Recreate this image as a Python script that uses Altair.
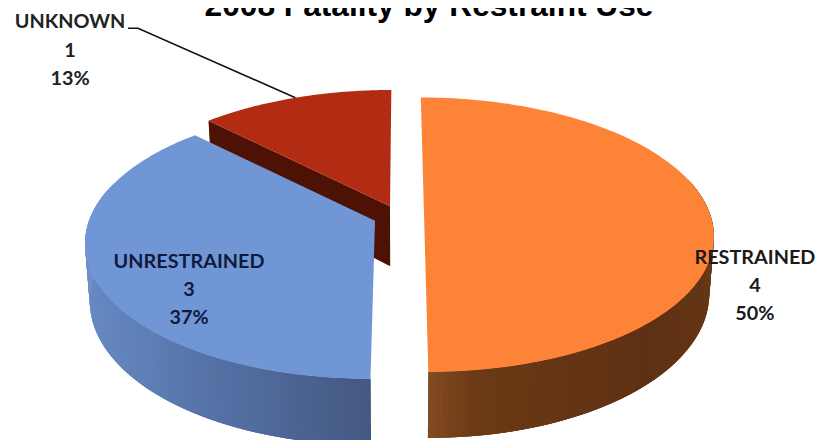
import math
import altair as alt

# ---- values
categories = ["RESTRAINED", "UNRESTRAINED", "UNKNOWN"]
counts = [4, 3, 1]
percent_labels = ["50%", "37%", "13%"]
title_text = "2008 Fatality by Restraint Use"

# ---- styling / layout of the tilted pie (picture pixels)
top_colors = ["#FD8336", "#7096D6", "#B12C13"]
wall_stops = [
    [(0.0, "#6B3A16"), (0.5, "#5E3113"), (0.89, "#6B3A16"), (1.0, "#8A4F22")],
    [(0.0, "#7092CC"), (0.5, "#5E7FB6"), (0.78, "#506A9C"), (1.0, "#435880")],
    [(0.0, "#4D1204"), (1.0, "#4D1204")],
]
explode_x = [24, -25, -10]
center_y = [211.5, 218.5, 204]
depth = [56, 56, 60]
text_colors = ["#1A1A1A", "#101A3C", "#222222"]
label_x = [755, 189, 70]
label_base = [261.5, 265.5, 26]
VX, RX, RY, PERSP, BASE_SHRINK = 400, 286, 134, 0.153, 0.985
# the page is a little wider than the window, and is photographed slightly reduced
FX = FY = 832 / 824


def top_pt(i, deg):
    t = math.radians(deg)
    s = 1 / (1 + PERSP * math.cos(t))
    return [VX + (explode_x[i] + RX * math.sin(t)) * s, center_y[i] - RY * math.cos(t) * s]


def base_pt(i, deg):
    t = math.radians(deg)
    s = 1 / (1 + PERSP * math.cos(t))
    return [VX + (explode_x[i] + RX * math.sin(t)) * s * BASE_SHRINK,
            center_y[i] - RY * math.cos(t) * s + depth[i] * s]


def apex(i):
    return [VX + explode_x[i], center_y[i]]


def apex_base(i):
    return [VX + explode_x[i] * BASE_SHRINK, center_y[i] + depth[i]]


def mix(stops, u):
    for (u0, c0), (u1, c1) in zip(stops, stops[1:]):
        if u <= u1:
            f = (u - u0) / (u1 - u0)
            ch = [round(int(c0[k:k + 2], 16) * (1 - f) + int(c1[k:k + 2], 16) * f) for k in (1, 3, 5)]
            return "#%02X%02X%02X" % tuple(ch)
    return stops[-1][1]


def place(p):
    return [p[0] * FX, p[1] * FY]


def poly(points, fill):
    pts = [place(p) for p in points]
    return {"type": "Feature", "properties": {"fill": fill},
            "geometry": {"type": "Polygon", "coordinates": [pts + [pts[0]]]}}


total = sum(counts)
spans, acc = [], 0
for c in counts:
    spans.append((acc * 360 / total, (acc + c) * 360 / total))
    acc += c

features = []
for i in [2, 1, 0]:
    a0, a1 = spans[i]
    n = 150
    angs = [a0 + (a1 - a0) * k / n for k in range(n + 1)]
    if i != 2:
        # outer wall in strips, each overlapping the next so that no seam shows
        lo, hi = (90, 180) if i == 0 else (270, 180)
        lim = (75, 180) if i == 0 else (180, 285)
        ks = [k for k in range(n) if lim[0] <= angs[k] <= lim[1]]
        for k in (ks if i == 1 else ks[::-1]):
            k2 = min(n, k + 2)
            q = [top_pt(i, angs[max(0, k - 1)]), top_pt(i, angs[k2]), base_pt(i, angs[k2]), base_pt(i, angs[max(0, k - 1)])]
            u = min(1, max(0, (angs[k] - lo) / (hi - lo)))
            features.append(poly(q, mix(wall_stops[i], u)))
    else:
        # cut face that looks toward the viewer
        features.append(poly([apex(i), top_pt(i, a0), base_pt(i, a0), apex_base(i)], wall_stops[i][0][1]))
    # top face
    features.append(poly([apex(i)] + [top_pt(i, a) for a in angs], top_colors[i]))

mid_unknown = sum(spans[2]) / 2
leader = [{"type": "Feature", "properties": {},
           "geometry": {"type": "LineString",
                        "coordinates": [place(p) for p in
                                        [[label_x[2] + 58, label_base[2]], [label_x[2] + 68, label_base[2]],
                                         top_pt(2, mid_unknown)]]}}]

projection = alt.Projection(type="identity", scale=1, translate=[-8, -8])

pie = alt.Chart(alt.Data(values=features)).mark_geoshape(strokeWidth=0).encode(
    fill=alt.Fill("properties.fill:N", scale=None),
).project(**projection.to_dict())

line = alt.Chart(alt.Data(values=leader)).mark_geoshape(filled=False, stroke="#111111", strokeWidth=1.6).project(
    **projection.to_dict()
)

rows = []
for i, cat in enumerate(categories):
    for j, txt in enumerate([cat, str(counts[i]), percent_labels[i]]):
        rows.append({"txt": txt, "px": label_x[i] * FX - 8, "py": (label_base[i] + j * 28.3) * FY - 8, "col": text_colors[i]})

labels = alt.Chart(alt.Data(values=rows)).mark_text(
    font="Lato", fontWeight="bold", fontSize=20, baseline="alphabetic", align="center"
).encode(
    x=alt.X("px:Q", scale=None),
    y=alt.Y("py:Q", scale=None),
    text="txt:N",
    color=alt.Color("col:N", scale=None),
)

title = alt.Chart(alt.Data(values=[{"t": title_text, "px": 429 * FX - 8, "py": 14 * FY - 8}])).mark_text(
    font="Liberation Sans", fontWeight="bold", fontSize=32, baseline="alphabetic", align="center", color="#000000"
).encode(
    x=alt.X("px:Q", scale=None),
    y=alt.Y("py:Q", scale=None),
    text="t:N",
)

chart = alt.layer(pie, line, labels, title).properties(
    width=816, height=437, padding=0, autosize=alt.AutoSizeParams(type="none"), background="white"
).configure_view(stroke=None)

chart.save("out.html", embed_options={"renderer": "svg", "actions": False})
